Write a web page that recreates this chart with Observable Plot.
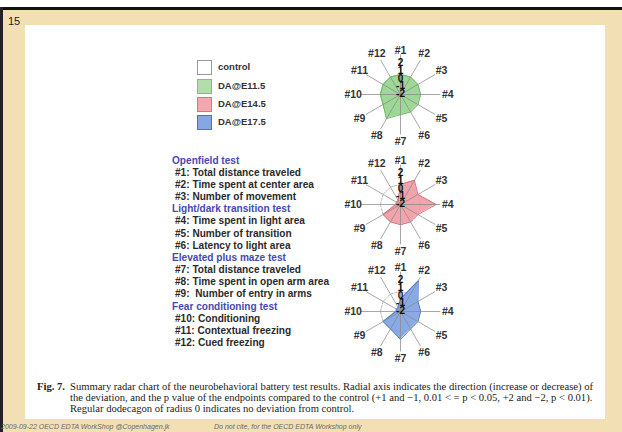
<!DOCTYPE html>
<html>
<head>
<meta charset="utf-8">
<script src="https://cdn.jsdelivr.net/npm/d3@7"></script>
<script src="https://cdn.jsdelivr.net/npm/@observablehq/plot@0.6"></script>
<style>
  body { margin: 0; }
  #page { position: relative; width: 622px; height: 432px; background: #fff; overflow: hidden; font-family: "Liberation Sans", Arial, sans-serif; }
  .abs { position: absolute; }
  .radar svg { background: transparent !important; }
</style>
</head>
<body>
<div id="page"></div>
<script>
// ---------- data ----------
const axes = ["#1", "#2", "#3", "#4", "#5", "#6", "#7", "#8", "#9", "#10", "#11", "#12"];
const groups = ["control", "DA@E11.5", "DA@E14.5", "DA@E17.5"];
const control = [0, 0, 0, 0, 0, 0, 0, 0, 0, 0, 0, 0];
const e11 = [0, 0, 0, 0, 0, 0, 0, 1, 0, 0, 0, 0];
const e14 = [0, 1, 0, 2, 0, 0, 0, 0, 0, -2, -2, -2];
const e17 = [-1, 2, 0, 0, 0, 0, 1, 0, 0, -2, -2, -2];
const radialTicks = [2, 1, 0, -1, -2];
const testNames = ["Openfield test", "Light/dark transition test", "Elevated plus maze test", "Fear conditioning test"];
const testItems = [
  ["#1: Total distance traveled", "#2: Time spent at center area", "#3: Number of movement"],
  ["#4: Time spent in light area", "#5: Number of transition", "#6: Latency to light area"],
  ["#7: Total distance traveled", "#8: Time spent in open arm area", "#9:  Number of entry in arms"],
  ["#10: Conditioning", "#11: Contextual freezing", "#12: Cued freezing"]
];
const captionLabel = "Fig. 7.";
const captionLines = [
  "Summary radar chart of the neurobehavioral battery test results. Radial axis indicates the direction (increase or decrease) of",
  "the deviation, and the p value of the endpoints compared to the control (+1 and \u22121, 0.01 < = p < 0.05, +2 and \u22122, p < 0.01).",
  "Regular dodecagon of radius 0 indicates no deviation from control."
];
const pageNumber = "15";
const footerLeft = "2009-09-22 OECD EDTA WorkShop @Copenhagen.jk";
const footerRight = "Do not cite, for the OECD EDTA Workshop only";

// ---------- styles ----------
const swatchFill = ["#ffffff", "#b1dfa9", "#f3a8b0", "#86a7e3"];
const swatchStroke = ["#9a9a9a", "#7fbf76", "#d97682", "#4f72c2"];
const polyFill = [null, "#93d48b", "#f19aa3", "#7da1e2"];
const polyStroke = [null, "#6bbd62", "#e0707c", "#4d77c6"];

const page = document.getElementById("page");
function box(css, html) {
  const d = document.createElement("div");
  d.className = "abs";
  d.style.cssText = css;
  if (html != null) d.innerHTML = html;
  page.appendChild(d);
  return d;
}

// slide frame
box("left:0;top:7px;width:622px;height:425px;background:#f2dfb3;");
box("left:0;top:7px;width:622px;height:3px;background:#111;");
box("left:0;top:7px;width:3px;height:425px;background:#222;");
box("left:25px;top:25px;width:580px;height:394px;background:#fff;");
box("left:8px;top:15px;font-size:11px;color:#222;", pageNumber);

// legend
const legY = [60, 79, 97, 115];
groups.forEach((g, i) => {
  box(`left:197px;top:${legY[i]}px;width:13px;height:13px;background:${swatchFill[i]};border:1px solid ${swatchStroke[i]};`);
  box(`left:218px;top:${legY[i] + 1}px;font-size:9.5px;font-weight:bold;color:#333;line-height:12px;white-space:pre;`, g);
});

// test list
let lines = [];
testNames.forEach((t, i) => {
  lines.push(`<div style="color:#4848b4;margin-left:0">${t}</div>`);
  testItems[i].forEach(it => lines.push(`<div style="color:#2a2a2a;margin-left:3px">${it}</div>`));
});
box("left:172px;top:154.5px;font-size:10.1px;font-weight:bold;line-height:12.17px;white-space:pre;", lines.join(""));

// caption
box("left:37px;top:380.5px;font-family:'Liberation Serif','Times New Roman',serif;font-size:10.6px;font-weight:bold;color:#222;line-height:11px;", captionLabel);
box("left:70px;top:380.5px;font-family:'Liberation Serif','Times New Roman',serif;font-size:10.6px;color:#222;line-height:11px;white-space:nowrap;", captionLines.join("<br>"));

// footer
box("left:1px;top:423px;font-size:7px;font-style:italic;color:#6a6a6a;white-space:nowrap;", footerLeft);
box("left:214px;top:423px;font-size:7px;font-style:italic;color:#6a6a6a;white-space:nowrap;", footerRight);

// ---------- radar charts ----------
const W = 130, H = 106, R = 35.6; // R = pixel radius of value 2
const rn = d3.scaleLinear().domain([-2.6, 2]).range([0, 1]);
const ang = i => i * 2 * Math.PI / 12;

function radar(values, gi) {
  const pts = axes.map((a, i) => ({axis: a, value: values[i], i}));
  const closed = [...pts, pts[0]];
  const ctrl = control.map((v, i) => ({value: v, i}));
  const ctrlClosed = [...ctrl, ctrl[0]];
  const px = d => rn(d.value) * Math.sin(ang(d.i));
  const py = d => rn(d.value) * Math.cos(ang(d.i));
  return Plot.plot({
    width: W, height: H, margin: 0,
    style: {background: "transparent", overflow: "visible"},
    x: {domain: [-W / 2 / R, W / 2 / R], axis: null},
    y: {domain: [-H / 2 / R, H / 2 / R], axis: null},
    marks: [
      Plot.line(ctrlClosed, {x: px, y: py, stroke: "#b8b8b8", strokeWidth: 1, strokeDasharray: "2,1.5"}),
      Plot.area(closed, {x1: px, y1: py, x2: 0, y2: 0, fill: polyFill[gi], fillOpacity: 0.9, curve: "linear"}),
      Plot.line(closed, {x: px, y: py, stroke: polyStroke[gi], strokeWidth: 1}),
      Plot.link(pts, {x1: 0, y1: 0, x2: d => 1.12 * Math.sin(ang(d.i)), y2: d => 1.12 * Math.cos(ang(d.i)), stroke: "#8a8a8a", strokeOpacity: 0.75, strokeWidth: 1}),
      Plot.text(pts, {x: d => 1.33 * Math.sin(ang(d.i)), y: d => (d.i === 0 ? 1.24 : 1.33) * Math.cos(ang(d.i)), text: "axis", fontSize: 10.5, fontWeight: "bold", fill: "#333", fontFamily: "Liberation Sans, Arial, sans-serif"}),
      Plot.text(radialTicks, {x: 0, y: d => rn(d), text: d => String(d), dy: 4, fontSize: 10, fontWeight: "bold", fill: "#111", fontFamily: "Liberation Sans, Arial, sans-serif"})
    ]
  });
}

const centers = [94, 204, 311];
[e11, e14, e17].forEach((vals, k) => {
  const holder = box(`left:${399.5 - W / 2}px;top:${centers[k] - H / 2}px;width:${W}px;height:${H}px;`);
  holder.classList.add("radar");
  holder.appendChild(radar(vals, k + 1));
});
</script>
</body>
</html>
